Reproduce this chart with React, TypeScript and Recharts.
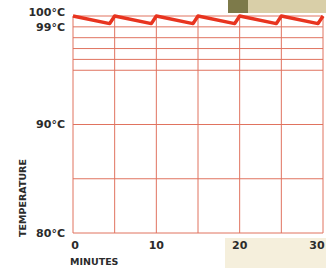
import { LineChart, Line, XAxis, YAxis, CartesianGrid } from "recharts";

// sawtooth: heats back to 100°C every 5 minutes, cools to ~99.3°C in between
const minutes = [0, 4.4, 5, 9.4, 10, 14.4, 15, 19.4, 20, 24.4, 25, 29.4, 30];
const temps = [100, 99.3, 100, 99.3, 100, 99.3, 100, 99.3, 100, 99.3, 100, 99.3, 100];

const xTicks = [0, 5, 10, 15, 20, 25, 30];
const xLabels = [0, 10, 20, 30];
const yTicks = [80, 85, 90, 95, 96, 97, 98, 99, 100];
const yLabels = [80, 90, 99, 100];

const data = minutes.map((m, i) => ({ m, t: temps[i] }));

const GRID = "#e0735f";
const INK = "#2b2b2b";
const FONT = "'DejaVu Sans', sans-serif";

function YTick(props: any) {
  const { x, y, payload } = props;
  if (!yLabels.includes(payload.value)) return null;
  const shift = payload.value === 100 ? -4 : 0;
  return (
    <text x={x} y={y + shift} dy="0.35em" textAnchor="end" fill={INK} fontFamily={FONT} fontWeight="bold" fontSize={11}>
      {payload.value}°C
    </text>
  );
}

function XTick(props: any) {
  const { x, y, payload } = props;
  if (!xLabels.includes(payload.value)) return null;
  let nudge = 0;
  if (payload.value === 0) nudge = 2;
  if (payload.value === 30) nudge = -6;
  return (
    <text x={x + nudge} y={y} dy="0.71em" textAnchor="middle" fill={INK} fontFamily={FONT} fontWeight="bold" fontSize={11}>
      {payload.value}
    </text>
  );
}

export default function App() {
  return (
    <div style={{ position: "absolute", left: 0, top: 0, width: 326, height: 268, background: "#fff", overflow: "hidden" }}>
      <div style={{ position: "absolute", left: 228, top: 0, width: 20, height: 13, background: "#7d7a4a" }} />
      <div style={{ position: "absolute", left: 248, top: 0, width: 78, height: 13, background: "#d9cfa8" }} />
      <div style={{ position: "absolute", left: 225, top: 238, width: 101, height: 30, background: "#f5efdc" }} />
      <div style={{ position: "absolute", left: 0, top: 0 }}>
        <LineChart width={326} height={268} data={data} margin={{ top: 16, right: 3, left: 0, bottom: 5 }}>
          <CartesianGrid stroke={GRID} strokeWidth={1} />
          <XAxis
            dataKey="m"
            type="number"
            domain={[0, 30]}
            ticks={xTicks}
            tick={<XTick />}
            tickLine={false}
            axisLine={false}
            height={30}
            interval={0}
            label={{
              content: () => (
                <text x={70} y={265} fill={INK} fontFamily={FONT} fontWeight="bold" fontSize={9.5}>
                  MINUTES
                </text>
              ),
            }}
          />
          <YAxis
            type="number"
            domain={[80, 100]}
            ticks={yTicks}
            tick={<YTick />}
            tickLine={false}
            axisLine={false}
            width={73}
            interval={0}
            label={{
              content: () => (
                <text x={26} y={198} transform="rotate(-90 26 198)" textAnchor="middle" fill={INK} fontFamily={FONT} fontWeight="bold" fontSize={9.5}>
                  TEMPERATURE
                </text>
              ),
            }}
          />
          <Line
            dataKey="t"
            stroke="#e8341f"
            strokeWidth={3.5}
            dot={false}
            isAnimationActive={false}
            strokeLinejoin="round"
          />
        </LineChart>
      </div>
    </div>
  );
}
